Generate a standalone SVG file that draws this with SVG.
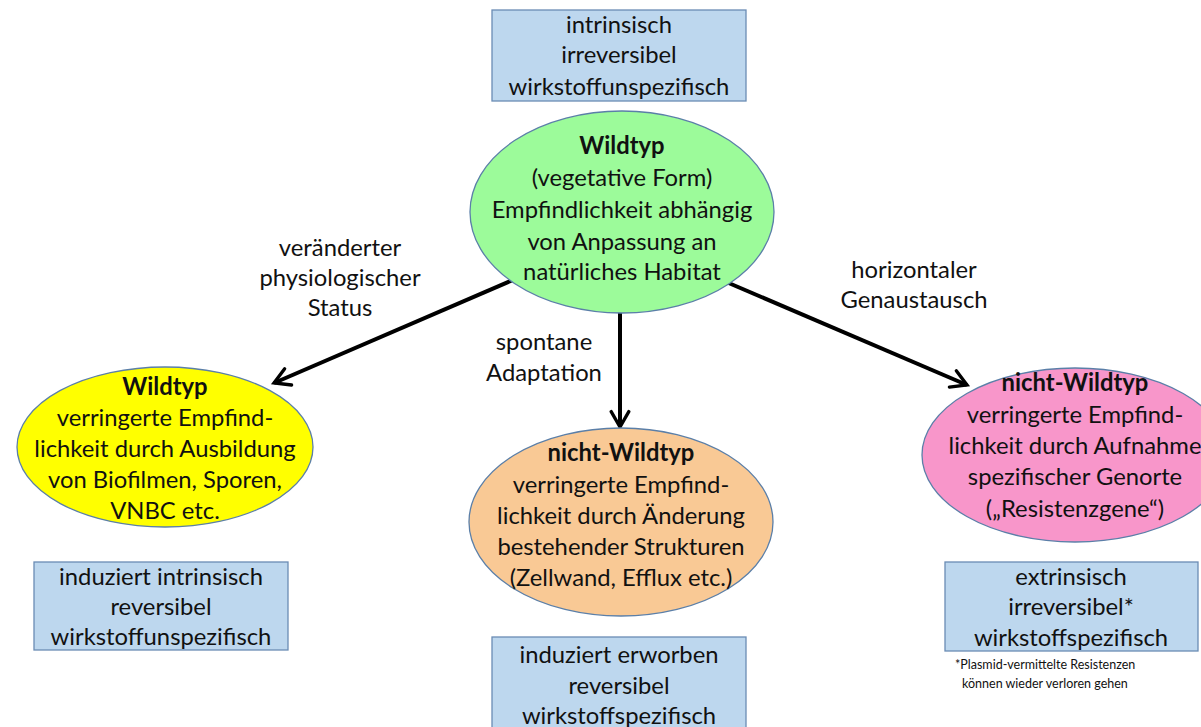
<svg xmlns="http://www.w3.org/2000/svg" width="1201" height="727" viewBox="0 0 1201 727">
<style>
.t{font-family:Lato,"Liberation Sans",sans-serif;font-size:23.8px;fill:#111;text-anchor:middle}
.b{font-weight:bold}
.box{fill:#BDD7EE;stroke:#6A8CB4;stroke-width:1.3}
.el{stroke:#5B7FA8;stroke-width:1.3}
.ln{stroke:#000;stroke-width:4;fill:none;marker-end:url(#ah)}
.fn{font-family:Lato,"Liberation Sans",sans-serif;font-size:12.5px;fill:#111}
</style>
<defs>
<marker id="ah" viewBox="0 0 20 20" refX="17" refY="10" markerWidth="5.5" markerHeight="5.5" markerUnits="strokeWidth" orient="auto">
<path d="M3,2 L17,10 L3,18" fill="none" stroke="#000" stroke-width="3" stroke-linecap="round" stroke-linejoin="miter"/>
</marker>
</defs>
<rect width="1201" height="727" fill="#fff"/>
<g id="connectors">
<line class="ln" x1="513" y1="280" x2="274" y2="383"/>
<line class="ln" x1="620" y1="310" x2="620" y2="427"/>
<line class="ln" x1="724" y1="281" x2="967" y2="385"/>
<text class="t" x="340" y="256">veränderter</text>
<text class="t" x="340" y="286">physiologischer</text>
<text class="t" x="340" y="316">Status</text>
<text class="t" x="544" y="350">spontane</text>
<text class="t" x="544" y="381">Adaptation</text>
<text class="t" x="914" y="278">horizontaler</text>
<text class="t" x="914" y="308">Genaustausch</text>
</g>
<g id="box-top">
<rect class="box" x="492" y="10" width="254" height="91"/>
<text class="t" x="619" y="33">intrinsisch</text>
<text class="t" x="619" y="63">irreversibel</text>
<text class="t" x="619" y="95">wirkstoffunspezifisch</text>
</g>
<g id="wildtyp-top">
<ellipse class="el" cx="622" cy="212" rx="152" ry="101" fill="#9CFB9A"/>
<text class="t b" x="622" y="154">Wildtyp</text>
<text class="t" x="622" y="186">(vegetative Form)</text>
<text class="t" x="622" y="218">Empfindlichkeit abhängig</text>
<text class="t" x="622" y="250">von Anpassung an</text>
<text class="t" x="622" y="280">natürliches Habitat</text>
</g>
<g id="wildtyp-left">
<ellipse class="el" cx="165" cy="447" rx="148" ry="80" fill="#FFFF00"/>
<text class="t b" x="165" y="395">Wildtyp</text>
<text class="t" x="165" y="426">verringerte Empfind-</text>
<text class="t" x="165" y="457">lichkeit durch Ausbildung</text>
<text class="t" x="165" y="488">von Biofilmen, Sporen,</text>
<text class="t" x="165" y="519">VNBC etc.</text>
</g>
<g id="nichtwildtyp-mid">
<ellipse class="el" cx="621" cy="522" rx="152" ry="94" fill="#F9C995"/>
<text class="t b" x="621" y="461">nicht-Wildtyp</text>
<text class="t" x="621" y="493">verringerte Empfind-</text>
<text class="t" x="621" y="524">lichkeit durch Änderung</text>
<text class="t" x="621" y="555">bestehender Strukturen</text>
<text class="t" x="621" y="586">(Zellwand, Efflux etc.)</text>
</g>
<g id="nichtwildtyp-right">
<ellipse class="el" cx="1075" cy="455" rx="153" ry="87" fill="#F896CA"/>
<text class="t b" x="1075" y="391">nicht-Wildtyp</text>
<text class="t" x="1075" y="423">verringerte Empfind-</text>
<text class="t" x="1075" y="454">lichkeit durch Aufnahme</text>
<text class="t" x="1075" y="485">spezifischer Genorte</text>
<text class="t" x="1075" y="517">(„Resistenzgene“)</text>
</g>
<g id="box-left">
<rect class="box" x="34" y="562" width="254" height="88"/>
<text class="t" x="161" y="585">induziert intrinsisch</text>
<text class="t" x="161" y="615">reversibel</text>
<text class="t" x="161" y="645">wirkstoffunspezifisch</text>
</g>
<g id="box-mid">
<rect class="box" x="492" y="637" width="254" height="95"/>
<text class="t" x="619" y="663">induziert erworben</text>
<text class="t" x="619" y="694">reversibel</text>
<text class="t" x="619" y="724">wirkstoffspezifisch</text>
</g>
<g id="box-right">
<rect class="box" x="945" y="562" width="253" height="89"/>
<text class="t" x="1071" y="585">extrinsisch</text>
<text class="t" x="1071" y="615">irreversibel*</text>
<text class="t" x="1071" y="646">wirkstoffspezifisch</text>
</g>
<g id="footnote">
<text class="fn" x="955" y="669">*Plasmid-vermittelte Resistenzen</text>
<text class="fn" x="962" y="688">können wieder verloren gehen</text>
</g>
</svg>
